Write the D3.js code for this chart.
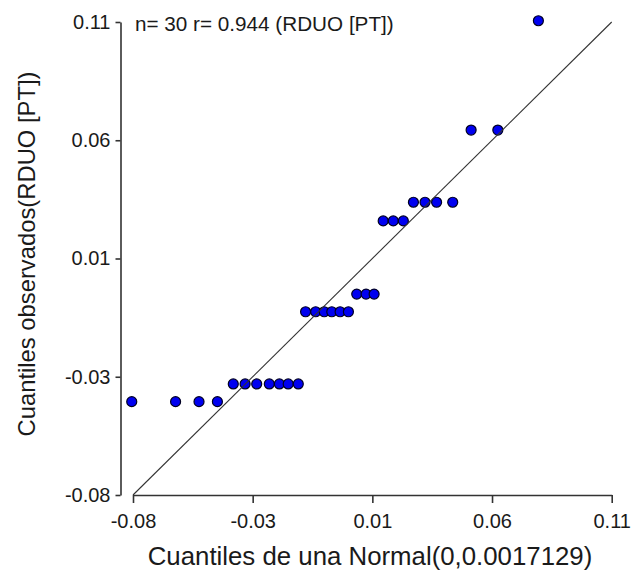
<!DOCTYPE html>
<html>
<head>
<meta charset="utf-8">
<script src="https://cdn.jsdelivr.net/npm/d3@7"></script>
<style>
  html, body { margin: 0; padding: 0; background: #fff; }
  svg { display: block; }
  text { font-family: "Liberation Sans", Arial, sans-serif; fill: #1a1a1a; }
</style>
</head>
<body>
<svg id="chart" width="635" height="572"></svg>
<script>
const theoreticalQ = [-0.0805, -0.0631, -0.0538, -0.0465, -0.0402, -0.0355, -0.0309, -0.0259,
  -0.0219, -0.0184, -0.0144, -0.0115, -0.0075, -0.0041, -0.0011, 0.0022, 0.0055, 0.0088,
  0.0125, 0.0157, 0.0193, 0.0233, 0.0273, 0.0313, 0.0359, 0.0405, 0.0469, 0.0542, 0.0648, 0.0809];
const observedQ = [-0.0425, -0.0425, -0.0425, -0.0425,
  -0.0354, -0.0354, -0.0354, -0.0354, -0.0354, -0.0354, -0.0354,
  -0.0064, -0.0064, -0.0064, -0.0064, -0.0064, -0.0064,
  0.0007, 0.0007, 0.0007,
  0.0301, 0.0301, 0.0301,
  0.0376, 0.0376, 0.0376, 0.0376,
  0.0666, 0.0666,
  0.1105];
const axisDomain = [-0.08, 0.11];
const tickValues = [-0.08, -0.0325, 0.015, 0.0625, 0.11];
const tickLabels = ["-0.08", "-0.03", "0.01", "0.06", "0.11"];
const refLine = [-0.08, 0.11];
const titleText = "n= 30 r= 0.944 (RDUO [PT])";
const xTitle = "Cuantiles de una Normal(0,0.0017129)";
const yTitle = "Cuantiles observados(RDUO [PT])";

const svg = d3.select("#chart");
const x = d3.scaleLinear().domain(axisDomain).range([133, 611.7]);
const y = d3.scaleLinear().domain(axisDomain).range([495, 22]);
const yAxisX = 120.5;

// X axis
const xAxis = d3.axisBottom(x).tickValues(tickValues)
  .tickFormat((d, i) => tickLabels[i]).tickSize(8).tickPadding(11).tickSizeOuter(0);
const gx = svg.append("g").attr("transform", `translate(0,${y(axisDomain[0])})`).call(xAxis);
gx.selectAll("path, line").attr("stroke", "#333").attr("stroke-width", 1.6);
gx.selectAll("text").attr("font-size", 20).style("font-family", '"Liberation Sans", Arial, sans-serif').attr("fill", "#1a1a1a");

// Y axis
const yAxis = d3.axisLeft(y).tickValues(tickValues)
  .tickFormat((d, i) => tickLabels[i]).tickSize(5).tickPadding(5).tickSizeOuter(0);
const gy = svg.append("g").attr("transform", `translate(${yAxisX},0)`).call(yAxis);
gy.selectAll("path, line").attr("stroke", "#333").attr("stroke-width", 1.6);
gy.selectAll("text").attr("font-size", 20).style("font-family", '"Liberation Sans", Arial, sans-serif').attr("fill", "#1a1a1a");

// Points
const pts = theoreticalQ.map((v, i) => [v, observedQ[i]]);
svg.append("g").selectAll("circle").data(pts).join("circle")
  .attr("cx", d => x(d[0])).attr("cy", d => y(d[1])).attr("r", 5)
  .attr("fill", "#0000f0").attr("stroke", "#000022").attr("stroke-width", 1.2);

// Reference line y = x
svg.append("line")
  .attr("x1", x(refLine[0])).attr("y1", y(refLine[0]))
  .attr("x2", x(refLine[1])).attr("y2", y(refLine[1]))
  .attr("stroke", "#333").attr("stroke-width", 1.1);

// Title text
svg.append("text").attr("x", 135).attr("y", 31).attr("font-size", 20.7).text(titleText);

// Axis titles
svg.append("text").attr("x", 370).attr("y", 565).attr("text-anchor", "middle")
  .attr("font-size", 25.8).text(xTitle);
svg.append("text").attr("transform", "translate(35,254) rotate(-90)")
  .attr("text-anchor", "middle").attr("font-size", 23.8).text(yTitle);
</script>
</body>
</html>
